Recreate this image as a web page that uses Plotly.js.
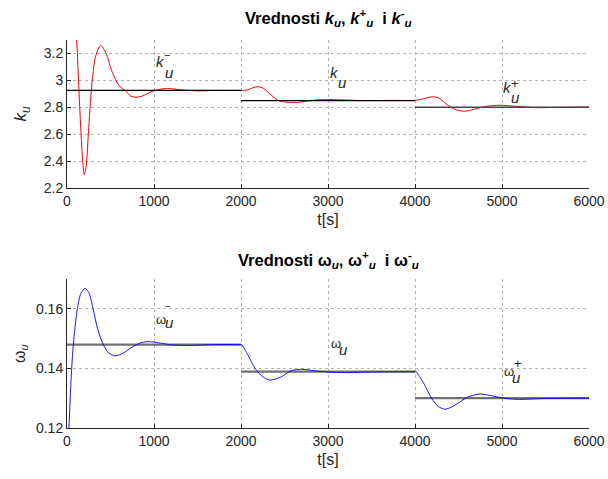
<!DOCTYPE html>
<html>
<head>
<meta charset="utf-8">
<script src="https://cdn.plot.ly/plotly-3.0.1.min.js"></script>
<style>body{margin:0;padding:0;background:#fff;}#chart{width:608px;height:479px;}</style>
</head>
<body>
<div id="chart"></div>
<script>
// ---- data ----
const xTicks = [0, 1000, 2000, 3000, 4000, 5000, 6000];
const kTicks = [2.2, 2.4, 2.6, 2.8, 3, 3.2];
const kTickLabels = ['2.2', '2.4', '2.6', '2.8', '3', '3.2'];
const wTicks = [0.12, 0.14, 0.16];
const wTickLabels = ['0.12', '0.14', '0.16'];

const stepT = [0, 2000, 4000, 6000];
const kRef = [2.925, 2.85, 2.80];
const wRef = [0.148, 0.1389, 0.130];

const tK = [0, 60, 111, 150, 180, 199, 220, 250, 290, 330, 387, 450, 520, 600, 667, 730, 793, 870, 950, 1011, 1146, 1300, 1500, 1700, 2000,
  2080, 2150, 2199, 2260, 2330, 2429, 2520, 2640, 2750, 2880, 3000, 3150, 3400, 3700, 4000,
  4080, 4150, 4210, 4270, 4340, 4402, 4480, 4575, 4680, 4800, 4977, 5150, 5400, 5700, 6000];
const kU = [4.6, 3.85, 3.3, 2.75, 2.40, 2.30, 2.36, 2.65, 3.00, 3.18, 3.26, 3.20, 3.06, 2.96, 2.925, 2.885, 2.874, 2.885, 2.91, 2.925, 2.94, 2.93, 2.922, 2.925, 2.925,
  2.93, 2.948, 2.953, 2.94, 2.90, 2.85, 2.838, 2.836, 2.845, 2.855, 2.858, 2.855, 2.85, 2.851, 2.852,
  2.86, 2.873, 2.878, 2.87, 2.835, 2.803, 2.78, 2.771, 2.785, 2.805, 2.815, 2.807, 2.797, 2.80, 2.802];

const tW = [0, 23, 40, 54, 73, 119, 160, 207, 250, 300, 350, 417, 480, 552, 650, 750, 850, 935, 1050, 1200, 1400, 1700, 2000,
  2008, 2080, 2161, 2250, 2333, 2450, 2580, 2697, 2850, 3000, 3200, 3500, 4000,
  4011, 4100, 4192, 4270, 4345, 4450, 4600, 4747, 4900, 5050, 5200, 5500, 6000];
const wU = [0.095, 0.12, 0.132, 0.14, 0.148, 0.16, 0.1652, 0.1668, 0.1655, 0.160, 0.1535, 0.148, 0.1452, 0.1442, 0.1452, 0.1472, 0.1486, 0.149, 0.1486, 0.1479, 0.1477, 0.148, 0.148,
  0.148, 0.1445, 0.14, 0.1372, 0.1361, 0.137, 0.1392, 0.1397, 0.1392, 0.1388, 0.1386, 0.1388, 0.1389,
  0.1389, 0.135, 0.1299, 0.1272, 0.1263, 0.1275, 0.1303, 0.1314, 0.1307, 0.1299, 0.1296, 0.1299, 0.130];

// ---- traces ----
const FONT = 'Liberation Sans, Arial, sans-serif';
const traces = [];
traces.push({x: tK, y: kU, xaxis: 'x', yaxis: 'y', mode: 'lines', line: {color: '#ff0000', width: 1, shape: 'spline', smoothing: 0.8}, hoverinfo: 'skip'});
for (let i = 0; i < kRef.length; i++) {
  traces.push({x: [stepT[i], stepT[i + 1]], y: [kRef[i], kRef[i]], xaxis: 'x', yaxis: 'y', mode: 'lines',
    line: {color: i === 2 ? '#444444' : '#000000', width: i === 2 ? 1.6 : 1.2}, hoverinfo: 'skip'});
}
for (let i = 0; i < wRef.length; i++) {
  traces.push({x: [stepT[i], stepT[i + 1]], y: [wRef[i], wRef[i]], xaxis: 'x2', yaxis: 'y2', mode: 'lines',
    line: {color: '#707070', width: 2.2}, hoverinfo: 'skip'});
}
traces.push({x: tW, y: wU, xaxis: 'x2', yaxis: 'y2', mode: 'lines', line: {color: '#0000ff', width: 1, shape: 'spline', smoothing: 0.8}, hoverinfo: 'skip', opacity: 0.9});

const axisCommon = {
  showline: true, linecolor: '#262626', linewidth: 1, mirror: false,
  ticks: 'inside', ticklen: 4, tickcolor: '#262626', tickwidth: 1,
  showgrid: true, gridcolor: '#b4b4b4', griddash: 'dot', gridwidth: 1,
  zeroline: false, tickfont: {family: FONT, size: 14, color: '#262626'}
};

function lbl(x, y, text, xref, yref, size) {
  return {x: x, y: y, xref: xref, yref: yref, text: text, showarrow: false, xanchor: 'left', yanchor: 'middle',
    font: {family: FONT, size: size || 15, color: '#262626'}};
}

const annotations = [
  // titles
  {xref: 'paper', yref: 'paper', x: 0.5, y: 1.0, yshift: 22, showarrow: false, xanchor: 'center', yanchor: 'middle',
   text: '<b>Vrednosti <i>k</i><sub><i>u</i></sub>, <i>k</i><sup>+</sup><sub><i>u</i></sub>  i <i>k</i><sup>-</sup><sub><i>u</i></sub></b>',
   font: {family: FONT, size: 16.5, color: '#000'}},
  {xref: 'paper', yref: 'paper', x: 0.5, y: 0.384, yshift: 19, showarrow: false, xanchor: 'center', yanchor: 'middle',
   text: '<b>Vrednosti ω<sub><i>u</i></sub>, ω<sup>+</sup><sub><i>u</i></sub>  i ω<sup>-</sup><sub><i>u</i></sub></b>',
   font: {family: FONT, size: 16.5, color: '#000'}},
  // top labels
  lbl(1000, 3.137, '<i>k</i>', 'x', 'y'),
  lbl(1090, 3.185, '−', 'x', 'y', 11),
  lbl(1100, 3.062, '<i>u</i>', 'x', 'y'),
  lbl(3005, 3.06, '<i>k</i>', 'x', 'y'),
  lbl(3095, 2.987, '<i>u</i>', 'x', 'y'),
  lbl(4990, 2.944, '<i>k</i>', 'x', 'y'),
  lbl(5080, 2.975, '+', 'x', 'y', 13),
  lbl(5080, 2.876, '<i>u</i>', 'x', 'y'),
  // bottom labels
  lbl(1000, 0.1563, 'ω', 'x2', 'y2', 13),
  lbl(1100, 0.1607, '−', 'x2', 'y2', 10),
  lbl(1100, 0.1553, '<i>u</i>', 'x2', 'y2'),
  lbl(3010, 0.1482, 'ω', 'x2', 'y2', 13),
  lbl(3100, 0.1462, '<i>u</i>', 'x2', 'y2'),
  lbl(5000, 0.1389, 'ω', 'x2', 'y2', 13),
  lbl(5110, 0.1417, '+', 'x2', 'y2', 13),
  lbl(5090, 0.1369, '<i>u</i>', 'x2', 'y2')
];

const layout = {
  width: 608, height: 479,
  margin: {l: 67, r: 19, t: 40, b: 51},
  paper_bgcolor: '#ffffff', plot_bgcolor: '#ffffff',
  showlegend: false,
  font: {family: FONT, color: '#262626'},
  xaxis: Object.assign({}, axisCommon, {domain: [0, 1], anchor: 'y', range: [0, 6000], tickvals: xTicks,
    title: {text: 't[s]', font: {family: FONT, size: 16, color: '#262626'}, standoff: 6}}),
  yaxis: Object.assign({}, axisCommon, {domain: [0.6186, 1], anchor: 'x', range: [2.2, 3.3], tickvals: kTicks, ticktext: kTickLabels,
    title: {text: '<i>k</i><sub><i>u</i></sub>', font: {family: FONT, size: 17, color: '#262626'}, standoff: 12}}),
  xaxis2: Object.assign({}, axisCommon, {domain: [0, 1], anchor: 'y2', range: [0, 6000], tickvals: xTicks,
    title: {text: 't[s]', font: {family: FONT, size: 16, color: '#262626'}, standoff: 6}}),
  yaxis2: Object.assign({}, axisCommon, {domain: [0, 0.384], anchor: 'x2', range: [0.12, 0.17], tickvals: wTicks, ticktext: wTickLabels,
    title: {text: 'ω<sub><i>u</i></sub>', font: {family: FONT, size: 16, color: '#262626'}, standoff: 6}}),
  annotations: annotations
};

Plotly.newPlot('chart', traces, layout, {displayModeBar: false, staticPlot: true});
</script>
</body>
</html>
